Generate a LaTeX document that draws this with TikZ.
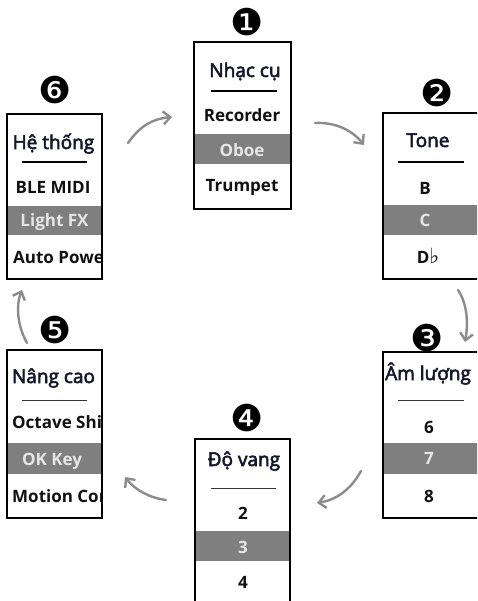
\documentclass[tikz,border=0pt]{standalone}
\usepackage{fontspec}
\usetikzlibrary{arrows.meta}
\newfontfamily\osans{Open Sans}
\newfontfamily\osansmed[FakeBold=3]{Open Sans}
\newfontfamily\dvs{DejaVu Sans}
\definecolor{bandgray}{HTML}{7F7F7F}
\definecolor{hitext}{HTML}{E6E6E6}
\definecolor{titlecol}{HTML}{15182A}
\definecolor{itemcol}{HTML}{111111}
\definecolor{arrowgray}{HTML}{8C8C8C}
\tikzset{
  boxframe/.style={draw=black, line width=1.3pt, fill=none, inner sep=0pt},
  ttl/.style={font=\osansmed\bfseries\fontsize{19}{21}\selectfont, text=titlecol, inner sep=0pt, anchor=base},
  itm/.style={font=\osans\bfseries\fontsize{17}{19}\selectfont, text=itemcol, inner sep=0pt, anchor=base},
  itmw/.style={itm, anchor=base west},
  hitm/.style={itm, text=hitext},
  num/.style={font=\dvs\fontsize{37}{38}\selectfont, inner sep=0pt},
  thickrule/.style={draw=black, line width=1.6pt},
  thinrule/.style={draw=black!80, line width=0.9pt},
  flow/.style={draw=arrowgray, line width=2.4pt, line cap=round, -{Straight Barb[length=7pt,width=13pt]}}
}
\begin{document}
\begin{tikzpicture}[x=1pt,y=-1pt]
\clip (0,0) rectangle (477,601);
\fill[white] (0,0) rectangle (477,601);

% ---------- Box 1 ----------
\begin{scope}
\clip (194,42) rectangle (291,209);
\fill[bandgray] (194,134) rectangle (291,164);
\node[ttl] (t1) at (245,77) {\mdseries Nhạc cụ};
\node[itm] (i1a) at (242,122) {Recorder};
\node[hitm] (i1b) at (242,157) {Oboe};
\node[itm] (i1c) at (242,192) {Trumpet};
\end{scope}
\draw[thickrule] (211,91) -- (277,91);
\node[boxframe, minimum width=97pt, minimum height=167pt] (b1) at (242.5,125.5) {};
\node[num] (n1) at (247,22) {❶};

% ---------- Box 2 ----------
\begin{scope}
\clip (383,113) rectangle (480,279);
\fill[bandgray] (383,205) rectangle (480,235);
\node[ttl] (t2) at (428,147) {\mdseries Tone};
\node[itm] (i2a) at (425,195) {B};
\node[hitm] (i2b) at (425,227) {C};
\node[itm] (i2c) at (428,263) {D{\dvs\bfseries\fontsize{21}{21}\selectfont ♭}};
\end{scope}
\draw[thickrule] (398,162) -- (464,162);
\node[boxframe, minimum width=97pt, minimum height=166pt] (b2) at (431.5,196) {};
\node[num] (n2) at (437,93) {❷};

% ---------- Box 3 ----------
\begin{scope}
\clip (383,352) rectangle (480,518);
\fill[bandgray] (383,443) rectangle (480,474);
\node[ttl, anchor=base west] (t3) at (385,380) {\mdseries Âm lượng};
\node[itm] (i3a) at (429,433) {6};
\node[hitm] (i3b) at (429,464) {7};
\node[itm] (i3c) at (429,502) {8};
\end{scope}
\draw[thinrule] (398,400) -- (464,400);
\node[boxframe, minimum width=97pt, minimum height=166pt] (b3) at (431.5,435) {};
\node[num] (n3) at (427,338) {❸};

% ---------- Box 4 ----------
\begin{scope}
\clip (195,439) rectangle (290,606);
\fill[bandgray] (195,531) rectangle (290,561);
\node[ttl] (t4) at (244,466) {\mdseries Độ vang};
\node[itm] (i4a) at (243,519) {2};
\node[hitm] (i4b) at (243,553) {3};
\node[itm] (i4c) at (243,588) {4};
\end{scope}
\draw[thinrule] (211,488) -- (276,488);
\node[boxframe, minimum width=95pt, minimum height=167pt] (b4) at (242.5,522.5) {};
\node[num] (n4) at (247,418) {❹};

% ---------- Box 5 ----------
\begin{scope}
\clip (7,350) rectangle (102,518);
\fill[bandgray] (7,443) rectangle (102,474);
\node[ttl] (t5) at (53.5,383) {\mdseries Nâng cao};
\node[itmw] (i5a) at (12,428) {Octave Shi};
\node[hitm] (i5b) at (52,465) {OK Key};
\node[itmw] (i5c) at (12,502) {Motion Cor};
\end{scope}
\draw[thinrule] (22,400) -- (87,400);
\node[boxframe, minimum width=95pt, minimum height=168pt] (b5) at (54.5,434) {};
\node[num] (n5) at (55,330) {❺};

% ---------- Box 6 ----------
\begin{scope}
\clip (7,114) rectangle (102,279);
\fill[bandgray] (7,206) rectangle (102,235);
\node[ttl] (t6) at (53.5,149) {\mdseries Hệ thống};
\node[itm] (i6a) at (53,194) {BLE MIDI};
\node[hitm] (i6b) at (54.5,227) {Light FX};
\node[itmw] (i6c) at (13,263) {Auto Powe};
\end{scope}
\draw[thickrule] (22,162) -- (87,162);
\node[boxframe, minimum width=95pt, minimum height=165pt] (b6) at (54.5,196.5) {};
\node[num] (n6) at (55,90) {❻};

% ---------- Arrows ----------
\coordinate (a1s) at (128,143); \coordinate (a1e) at (172,117);
\coordinate (a2s) at (315,123); \coordinate (a2e) at (364,145);
\coordinate (a3s) at (458,290); \coordinate (a3e) at (465,342);
\coordinate (a4s) at (361,471); \coordinate (a4e) at (317,503);
\coordinate (a5s) at (166,500); \coordinate (a5e) at (125,477);
\coordinate (a6s) at (27,343);  \coordinate (a6e) at (22,290);
\draw[flow] (a1s) .. controls (140,126) and (152,119) .. (a1e);
\draw[flow] (a2s) .. controls (335,122) and (352,130) .. (a2e);
\draw[flow] (a3s) .. controls (468,305) and (468,325) .. (a3e);
\draw[flow] (a4s) .. controls (350,491) and (335,500) .. (a4e);
\draw[flow] (a5s) .. controls (150,498) and (135,490) .. (a5e);
\draw[flow] (a6s) .. controls (17,325) and (16,305) .. (a6e);
\end{tikzpicture}
\end{document}
